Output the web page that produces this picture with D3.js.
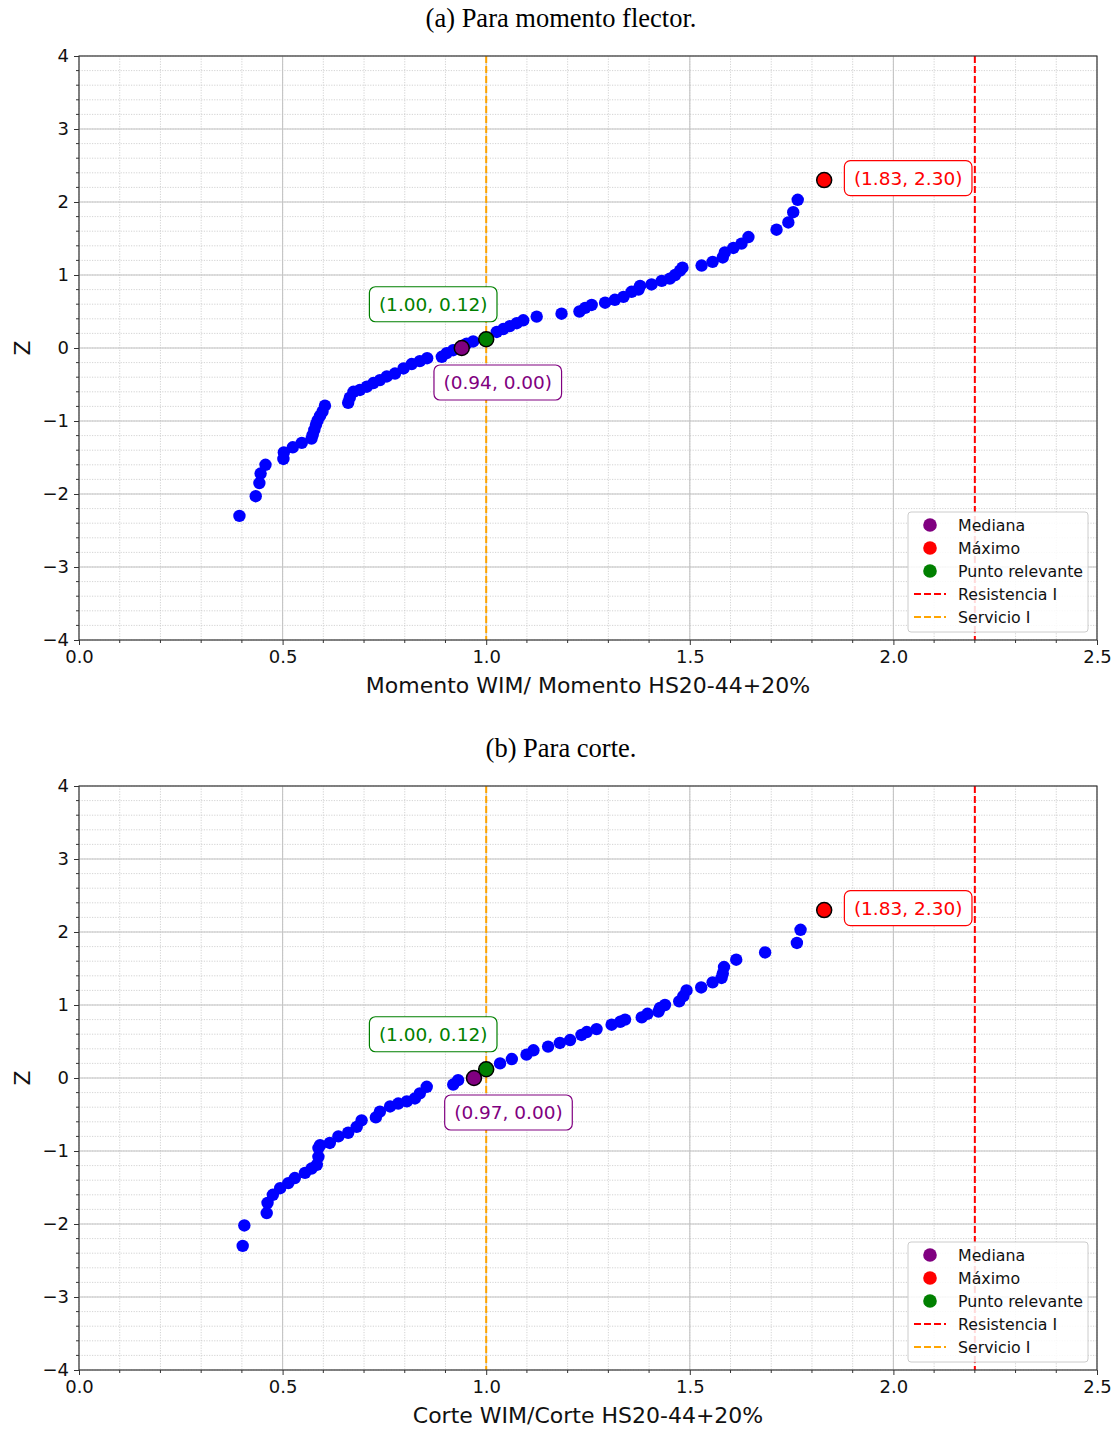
<!DOCTYPE html>
<html>
<head>
<meta charset="utf-8">
<script src="https://cdn.jsdelivr.net/npm/d3@7"></script>
<style>
  body { margin: 0; background: #fff; }
  svg text { font-family: "DejaVu Sans", sans-serif; }
</style>
</head>
<body>
<script>
// Panel (a): momento flector
var momentX = [0.394, 0.434, 0.443, 0.446, 0.458, 0.502, 0.503, 0.525, 0.547, 0.571, 0.574, 0.578, 0.582, 0.586,
  0.592, 0.598, 0.604, 0.661, 0.665, 0.674, 0.690, 0.707, 0.723, 0.739, 0.756, 0.776, 0.797, 0.817, 0.837, 0.855,
  0.891, 0.903, 0.919, 0.936, 0.952, 0.968, 1.003, 1.026, 1.042, 1.058, 1.075, 1.091, 1.124, 1.185, 1.229, 1.243,
  1.259, 1.292, 1.316, 1.337, 1.357, 1.374, 1.378, 1.406, 1.431, 1.451, 1.464, 1.476, 1.482, 1.529, 1.556, 1.581,
  1.586, 1.607, 1.627, 1.644, 1.713, 1.742, 1.754, 1.765, 1.830];
var momentZ = [-2.30, -2.03, -1.85, -1.72, -1.60, -1.52, -1.43, -1.36, -1.30, -1.24, -1.19, -1.12, -1.05, -0.99,
  -0.93, -0.87, -0.79, -0.75, -0.68, -0.60, -0.575, -0.53, -0.48, -0.44, -0.39, -0.35, -0.28, -0.22, -0.18, -0.14,
  -0.12, -0.07, -0.03, 0.00, 0.06, 0.09, 0.12, 0.22, 0.26, 0.30, 0.34, 0.38, 0.43, 0.47, 0.50, 0.55,
  0.59, 0.62, 0.66, 0.70, 0.77, 0.80, 0.85, 0.87, 0.92, 0.95, 1.00, 1.06, 1.10, 1.13, 1.18, 1.24,
  1.31, 1.37, 1.43, 1.52, 1.62, 1.72, 1.86, 2.03, 2.30];

// Panel (b): corte
var corteX = [0.402, 0.406, 0.461, 0.463, 0.476, 0.494, 0.514, 0.530, 0.555, 0.571, 0.584, 0.588, 0.588, 0.592,
  0.616, 0.637, 0.661, 0.682, 0.694, 0.729, 0.739, 0.764, 0.784, 0.805, 0.825, 0.837, 0.854, 0.919, 0.931, 0.968,
  1.001, 1.034, 1.063, 1.099, 1.116, 1.152, 1.181, 1.206, 1.234, 1.247, 1.271, 1.308, 1.329, 1.341, 1.382, 1.396,
  1.423, 1.427, 1.439, 1.474, 1.484, 1.492, 1.528, 1.556, 1.578, 1.581, 1.584, 1.614, 1.685, 1.763, 1.772, 1.830];
var corteZ = [-2.30, -2.02, -1.85, -1.71, -1.60, -1.51, -1.44, -1.37, -1.30, -1.24, -1.19, -1.08, -0.96, -0.92,
  -0.89, -0.80, -0.75, -0.67, -0.58, -0.54, -0.46, -0.39, -0.35, -0.32, -0.28, -0.21, -0.12, -0.09, -0.03, 0.00,
  0.12, 0.20, 0.26, 0.32, 0.38, 0.43, 0.48, 0.52, 0.59, 0.63, 0.67, 0.73, 0.77, 0.80, 0.83, 0.88,
  0.91, 0.96, 1.00, 1.05, 1.12, 1.20, 1.24, 1.31, 1.37, 1.43, 1.52, 1.62, 1.72, 1.85, 2.03, 2.30];

// Special points [x, z]
var momentMedian = [0.94, 0.00], momentMax = [1.83, 2.30], momentRelevant = [1.00, 0.12];
var corteMedian = [0.97, 0.00], corteMax = [1.83, 2.30], corteRelevant = [1.00, 0.12];

// Reference lines
var resistenciaX = 2.2;
var servicioX = 1.0;

var xTicks = [0.0, 0.5, 1.0, 1.5, 2.0, 2.5];
var yTicks = [-4, -3, -2, -1, 0, 1, 2, 3, 4];
var legendLabels = ["Mediana", "Máximo", "Punto relevante", "Resistencia I", "Servicio I"];

var svgWidth = 1119, svgHeight = 1429;
var svg = d3.select("body").append("svg")
  .attr("width", svgWidth)
  .attr("height", svgHeight);

var fmt = d3.format(".2f");
var minusFmt = function(v) { return String(v).replace("-", "\u2212"); };

function drawPanel(cfg) {
  var left = 79, right = 1097, top = cfg.top, bottom = cfg.top + 584;

  var x = d3.scaleLinear().domain([0, 2.5]).range([left, right]);
  var y = d3.scaleLinear().domain([-4, 4]).range([bottom, top]);

  // title
  svg.append("text")
    .attr("x", 561).attr("y", cfg.top - 29)
    .attr("text-anchor", "middle")
    .style("font-family", "'Liberation Serif', 'Times New Roman', serif")
    .style("font-size", "26.5px")
    .text(cfg.title);

  var g = svg.append("g");

  // minor grid
  g.append("g").selectAll("line").data(d3.range(0, 2.5001, 0.1)).enter().append("line")
    .attr("x1", d => x(d)).attr("x2", d => x(d)).attr("y1", top).attr("y2", bottom)
    .attr("stroke", "#c8c8c8").attr("stroke-width", 0.8).attr("stroke-dasharray", "1.2,1.4");
  g.append("g").selectAll("line").data(d3.range(-4, 4.001, 0.2)).enter().append("line")
    .attr("y1", d => y(d)).attr("y2", d => y(d)).attr("x1", left).attr("x2", right)
    .attr("stroke", "#c8c8c8").attr("stroke-width", 0.8).attr("stroke-dasharray", "1.2,1.4");

  // major grid
  g.append("g").selectAll("line").data(xTicks).enter().append("line")
    .attr("x1", d => x(d)).attr("x2", d => x(d)).attr("y1", top).attr("y2", bottom)
    .attr("stroke", "#c4c4c4").attr("stroke-width", 1.1);
  g.append("g").selectAll("line").data(yTicks).enter().append("line")
    .attr("y1", d => y(d)).attr("y2", d => y(d)).attr("x1", left).attr("x2", right)
    .attr("stroke", "#c4c4c4").attr("stroke-width", 1.1);

  // reference lines
  g.append("line")
    .attr("x1", x(servicioX)).attr("x2", x(servicioX)).attr("y1", top).attr("y2", bottom)
    .attr("stroke", "orange").attr("stroke-width", 2).attr("stroke-dasharray", "7,3");
  g.append("line")
    .attr("x1", x(resistenciaX)).attr("x2", x(resistenciaX)).attr("y1", top).attr("y2", bottom)
    .attr("stroke", "red").attr("stroke-width", 2).attr("stroke-dasharray", "7,3");

  // scatter
  g.append("g").selectAll("circle").data(d3.zip(cfg.xs, cfg.zs)).enter().append("circle")
    .attr("cx", d => x(d[0])).attr("cy", d => y(d[1])).attr("r", 6.2)
    .attr("fill", "blue");

  // special points
  [[cfg.median, "purple"], [cfg.max, "red"], [cfg.relevant, "green"]].forEach(function(p) {
    g.append("circle")
      .attr("cx", x(p[0][0])).attr("cy", y(p[0][1])).attr("r", 7.5)
      .attr("fill", p[1]).attr("stroke", "black").attr("stroke-width", 1.5);
  });

  // annotations
  function annotate(pt, color, dx, dy) {
    var ag = g.append("g");
    var t = ag.append("text")
      .attr("x", x(pt[0]) + dx).attr("y", y(pt[1]) + dy)
      .attr("text-anchor", "middle").attr("dominant-baseline", "central")
      .attr("fill", color).style("font-size", "18.5px")
      .text("(" + fmt(pt[0]) + ", " + fmt(pt[1]) + ")");
    var bb = t.node().getBBox();
    ag.insert("rect", "text")
      .attr("x", bb.x - 9.5).attr("y", bb.y - 7)
      .attr("width", bb.width + 19).attr("height", bb.height + 14)
      .attr("rx", 6).attr("ry", 6)
      .attr("fill", "white").attr("stroke", color).attr("stroke-width", 1.2);
  }
  annotate(cfg.max, "red", 84, -2);
  annotate(cfg.relevant, "green", -53, -35);
  annotate(cfg.median, "purple", cfg.medianDx, 34.5);

  // spines
  g.append("rect")
    .attr("x", left).attr("y", top).attr("width", right - left).attr("height", bottom - top)
    .attr("fill", "none").attr("stroke", "#333").attr("stroke-width", 1.1);

  // axes
  var xAxis = d3.axisBottom(x).tickValues(xTicks).tickFormat(d3.format(".1f")).tickSize(5).tickPadding(5);
  var yAxis = d3.axisLeft(y).tickValues(yTicks).tickFormat(minusFmt).tickSize(5).tickPadding(5);

  var xg = svg.append("g").attr("transform", "translate(0," + bottom + ")").call(xAxis);
  var yg = svg.append("g").attr("transform", "translate(" + left + ",0)").call(yAxis);
  [xg, yg].forEach(function(a) {
    a.select(".domain").remove();
    a.selectAll("line").attr("stroke", "#333");
    a.selectAll("text").style("font-family", "'DejaVu Sans', sans-serif").style("font-size", "18px").attr("fill", "#111");
  });

  // minor ticks
  svg.append("g").selectAll("line").data(d3.range(0.1, 2.5, 0.1).filter(v => Math.abs(v * 2 - Math.round(v * 2)) > 1e-6))
    .enter().append("line")
    .attr("x1", d => x(d)).attr("x2", d => x(d)).attr("y1", bottom).attr("y2", bottom + 3)
    .attr("stroke", "#333");
  svg.append("g").selectAll("line").data(d3.range(-3.8, 4, 0.2).filter(v => Math.abs(v - Math.round(v)) > 1e-6))
    .enter().append("line")
    .attr("y1", d => y(d)).attr("y2", d => y(d)).attr("x1", left - 3).attr("x2", left)
    .attr("stroke", "#333");

  // axis labels
  svg.append("text")
    .attr("x", (left + right) / 2).attr("y", bottom + 53)
    .attr("text-anchor", "middle").style("font-size", "22px").attr("fill", "#111")
    .text(cfg.xLabel);
  svg.append("text")
    .attr("transform", "translate(30," + y(0) + ") rotate(-90)")
    .attr("text-anchor", "middle").style("font-size", "22px").attr("fill", "#111")
    .text("Z");

  // legend
  var lx = 908, ly = bottom - 128;
  var lg = svg.append("g");
  lg.append("rect")
    .attr("x", lx).attr("y", ly).attr("width", 180).attr("height", 120)
    .attr("rx", 3).attr("fill", "white").attr("fill-opacity", 0.85)
    .attr("stroke", "#ccc");
  var markColors = ["purple", "red", "green", "red", "orange"];
  legendLabels.forEach(function(lbl, i) {
    var cy = ly + 13 + i * 23;
    if (i < 3) {
      lg.append("circle").attr("cx", lx + 22).attr("cy", cy).attr("r", 6.8).attr("fill", markColors[i]);
    } else {
      lg.append("line").attr("x1", lx + 6).attr("x2", lx + 38).attr("y1", cy).attr("y2", cy)
        .attr("stroke", markColors[i]).attr("stroke-width", 2).attr("stroke-dasharray", "7,3");
    }
    lg.append("text").attr("x", lx + 50).attr("y", cy).attr("dominant-baseline", "central")
      .style("font-size", "15.8px").attr("fill", "#111").text(lbl);
  });
}

drawPanel({
  top: 56, title: "(a) Para momento flector.",
  xs: momentX, zs: momentZ,
  median: momentMedian, max: momentMax, relevant: momentRelevant, medianDx: 36,
  xLabel: "Momento WIM/ Momento HS20-44+20%"
});
drawPanel({
  top: 786, title: "(b) Para corte.",
  xs: corteX, zs: corteZ,
  median: corteMedian, max: corteMax, relevant: corteRelevant, medianDx: 34.5,
  xLabel: "Corte WIM/Corte HS20-44+20%"
});
</script>
</body>
</html>
